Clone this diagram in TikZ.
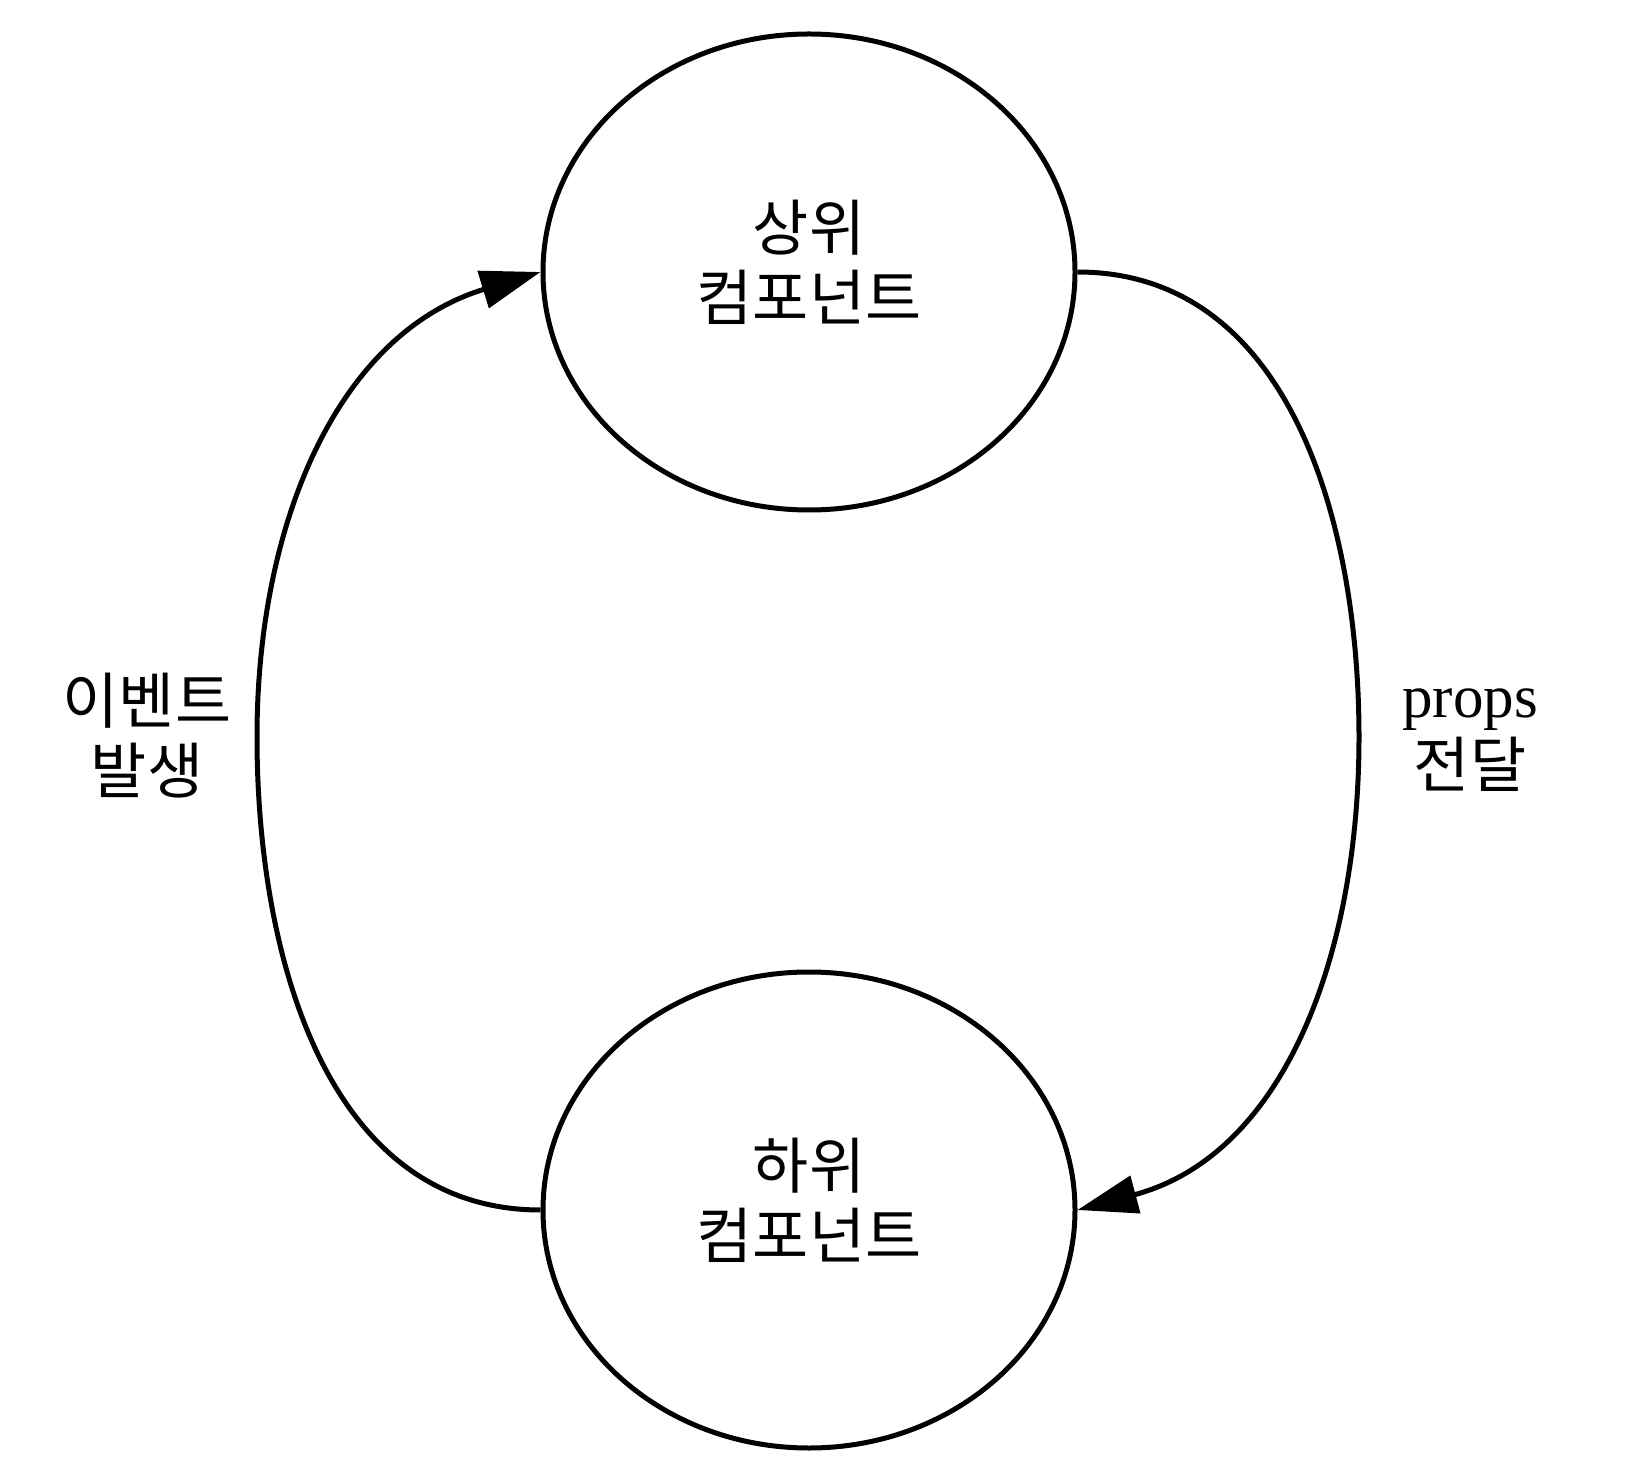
\documentclass[tikz,border=0pt]{standalone}
\usepackage{fontspec}
\setmainfont{Liberation Serif}
\newfontfamily\kr{Noto Sans CJK KR}
\usetikzlibrary{arrows.meta,shapes.geometric}
\begin{document}
\begin{tikzpicture}[x=0.5pt,y=0.5pt,line width=2.5pt,
  lab/.style={align=center,font=\kr\fontsize{30.5}{35}\selectfont},
  comp/.style={draw,ellipse,minimum width=266pt,minimum height=238pt,inner sep=0pt},
  flow/.style={-{Triangle[length=30pt,width=19pt]}}]
\useasboundingbox (0,0) rectangle (1628,1464);
\node[comp,label={[lab,yshift=5pt]center:상위\\컴포넌트}] (upper) at (809,1192) {};
\node[comp,label={[lab,yshift=5pt]center:하위\\컴포넌트}] (lower) at (809,254) {};
\coordinate (lmid) at (257,727);
\coordinate (rmid) at (1359,727);
\draw[flow] (lower.west) to[out=180,in=270] (lmid) to[out=90,in=197] (upper.west);
\draw[flow] (upper.east) to[out=0,in=90] (rmid) to[out=270,in=15] (lower.east);
\node[lab] (event) at (147,728) {이벤트\\발생};
\node[lab] (props) at (1470,724) {{\rmfamily props}\\전달};
\end{tikzpicture}
\end{document}
